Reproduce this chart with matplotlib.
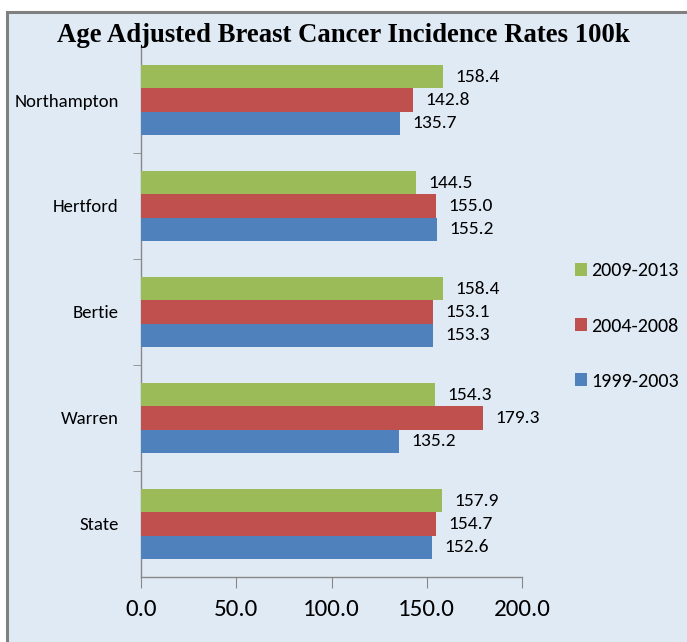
import matplotlib
matplotlib.use('Agg')
from matplotlib import pyplot as plt
from matplotlib.patches import Rectangle
import numpy as np

counties = ['Northampton', 'Hertford', 'Bertie', 'Warren', 'State']
rates_2009_2013 = [158.4, 144.5, 158.4, 154.3, 157.9]
rates_2004_2008 = [142.8, 155.0, 153.1, 179.3, 154.7]
rates_1999_2003 = [135.7, 155.2, 153.3, 135.2, 152.6]
periods = ['2009-2013', '2004-2008', '1999-2003']
x_ticks = [0, 50, 100, 150, 200]

label_font = ['Carlito', 'DejaVu Sans']

fig = plt.figure(figsize=(6.87, 6.42), dpi=100)
fig.patch.set_facecolor('white')

# light blue panel with grey frame
panel = Rectangle((7 / 687, -0.02), 1.0, (642 - 12) / 642 + 0.02, transform=fig.transFigure,
                  facecolor='#e0eaf5', edgecolor='#808080', linewidth=2.2, zorder=-1)
fig.patches.append(panel)

ax = fig.add_axes([141 / 687, 65 / 642, 381 / 687, 530 / 642])
ax.set_facecolor('none')

y = np.arange(len(counties))
h = 0.218
series = [
    (rates_2009_2013, -h, '#9bbb59', periods[0]),
    (rates_2004_2008, 0, '#c0504d', periods[1]),
    (rates_1999_2003, h, '#4f81bd', periods[2]),
]
for vals, off, col, lab in series:
    bars = ax.barh(y + off, vals, height=h, color=col, label=lab, zorder=3)
    for b, v in zip(bars, vals):
        ax.text(v + 6.5, b.get_y() + b.get_height() / 2, '%.1f' % v,
                va='center', ha='left', fontsize=14, family=label_font, color='black')

ax.set_xlim(0, 200)
ax.set_ylim(4.5, -0.5)
ax.set_xticks(x_ticks)
ax.set_xticklabels(['%.1f' % t for t in x_ticks], fontsize=18, family=label_font)
ax.set_yticks(y)
ax.set_yticklabels(counties, fontsize=13.5, family=label_font)
ax.set_yticks(np.arange(0.5, 4.5, 1), minor=True)
ax.tick_params(axis='y', which='major', length=0, pad=16)
ax.tick_params(axis='y', which='minor', length=6, color='#888888', direction='out')
ax.tick_params(axis='x', length=8, color='#888888', direction='out', pad=8)

for s in ['top', 'right']:
    ax.spines[s].set_visible(False)
for s in ['left', 'bottom']:
    ax.spines[s].set_color('#888888')
    ax.spines[s].set_linewidth(1)

fig.text(343 / 687, 1 - 36 / 642, 'Age Adjusted Breast Cancer Incidence Rates 100k',
         ha='center', va='center', fontsize=19.3, fontweight='bold', family='Liberation Serif')

fig.legend(loc='center left', bbox_to_anchor=(575 / 687, 1 - 326 / 642), frameon=False,
           borderpad=0, borderaxespad=0,
           prop={'family': label_font, 'size': 14.5}, handlelength=0.6, handleheight=0.6,
           handletextpad=0.2, labelspacing=1.9)

fig.savefig('out.png', dpi=100)
